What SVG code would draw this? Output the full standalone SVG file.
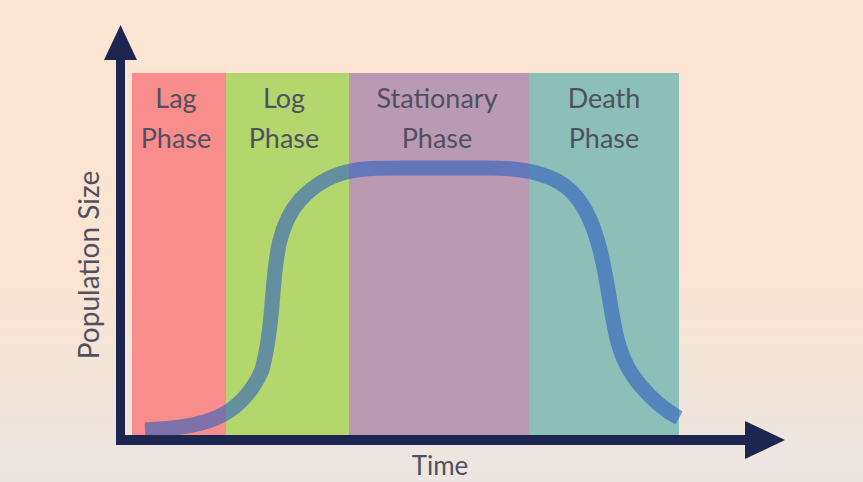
<svg xmlns="http://www.w3.org/2000/svg" width="863" height="482" viewBox="0 0 863 482">
<defs>
<linearGradient id="bg" x1="0" y1="0" x2="0" y2="1">
<stop offset="0" stop-color="#fce5d2"/><stop offset="0.55" stop-color="#fbe4d2"/><stop offset="1" stop-color="#ece6e2"/>
</linearGradient>
<style>
.t{font-family:Lato,"Liberation Sans",sans-serif;font-size:27px;fill:#505060;text-anchor:middle}
.ax{fill:#1d2650}
</style>
</defs>
<rect width="863" height="482" fill="url(#bg)"/>
<g id="panels">
<rect x="132" y="73" width="94" height="362" fill="#f88d8b"/>
<rect x="226" y="73" width="123" height="362" fill="#b3d66d"/>
<rect x="349" y="73" width="180" height="362" fill="#b99ab2"/>
<rect x="529" y="73" width="150" height="362" fill="#8bbfb7"/>
</g>
<path d="M145,430 C200,428 240,420 262,370 C280,300 265,240 300,200 C330,168 360,168 400,168 L490,168 C560,168 585,190 600,250 C615,310 610,350 640,385 C655,403 668,412 679,418" fill="none" stroke="#2f5fbf" stroke-opacity="0.6" stroke-width="15"/>
<g id="axes">
<rect x="116" y="50" width="9" height="395" class="ax"/>
<polygon points="120.5,25 104,60 137,60" class="ax"/>
<rect x="116" y="435" width="640" height="10" class="ax"/>
<polygon points="785,440 745,421 745,459" class="ax"/>
</g>
<g id="labels">
<text class="t" x="176" y="108">Lag</text><text class="t" x="176" y="148">Phase</text>
<text class="t" x="284" y="108">Log</text><text class="t" x="284" y="148">Phase</text>
<text class="t" x="437" y="108">Stationary</text><text class="t" x="437" y="148">Phase</text>
<text class="t" x="604" y="108">Death</text><text class="t" x="604" y="148">Phase</text>
<text class="t" x="440" y="475" style="font-size:26px">Time</text>
<text class="t" style="font-size:28px" transform="translate(99,265) rotate(-90)">Population Size</text>
</g>
</svg>
